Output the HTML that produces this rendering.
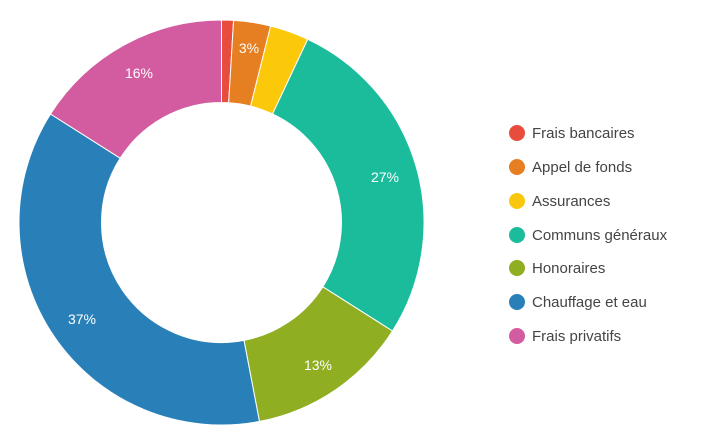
<!DOCTYPE html>
<html><head><meta charset="utf-8"><style>
html,body{margin:0;padding:0;background:#fff;width:702px;height:445px;overflow:hidden}
</style></head><body>
<svg id="s" width="702" height="445" xmlns="http://www.w3.org/2000/svg" font-family="Liberation Sans, Arial, sans-serif">
<g id="arcs"></g>
<g fill="#fff" font-size="14" text-anchor="middle">
<text x="249" y="53">3%</text>
<text x="385" y="182">27%</text>
<text x="318" y="370">13%</text>
<text x="82" y="324">37%</text>
<text x="139" y="78">16%</text>
</g>
<g font-size="15" fill="#444">
<circle cx="517" cy="133" r="8" fill="#e74c3c"/><text x="532" y="138">Frais bancaires</text>
<circle cx="517" cy="167" r="8" fill="#e67e22"/><text x="532" y="172">Appel de fonds</text>
<circle cx="517" cy="201" r="8" fill="#f9c80e"/><text x="532" y="206">Assurances</text>
<circle cx="517" cy="235" r="8" fill="#1abc9c"/><text x="532" y="240">Communs généraux</text>
<circle cx="517" cy="268" r="8" fill="#8fae22"/><text x="532" y="273">Honoraires</text>
<circle cx="517" cy="302" r="8" fill="#2980b9"/><text x="532" y="307">Chauffage et eau</text>
<circle cx="517" cy="336" r="8" fill="#d35ba0"/><text x="532" y="341">Frais privatifs</text>
</g>
</svg>
<script>
var cx=221.5,cy=222.5,R=202.5,r=120;
var cum=[0,0.95,3.9,7,34,47,84,100];
var col=["#e74c3c","#e67e22","#fcc80a","#1abc9c","#8fae22","#2980b9","#d35ba0"];
var g=document.getElementById("arcs"),h="";
function pt(p,rad){var a=p/100*2*Math.PI;return [cx+rad*Math.sin(a),cy-rad*Math.cos(a)];}
for(var i=0;i<7;i++){var a=cum[i],b=cum[i+1],l=(b-a)>50?1:0;
var p1=pt(a,R),p2=pt(b,R),p3=pt(b,r),p4=pt(a,r);
h+='<path d="M'+p1+' A'+R+' '+R+' 0 '+l+' 1 '+p2+' L'+p3+' A'+r+' '+r+' 0 '+l+' 0 '+p4+' Z" fill="'+col[i]+'" stroke="#fff" stroke-width="1"/>';}
g.innerHTML=h;
</script>
</body></html>
